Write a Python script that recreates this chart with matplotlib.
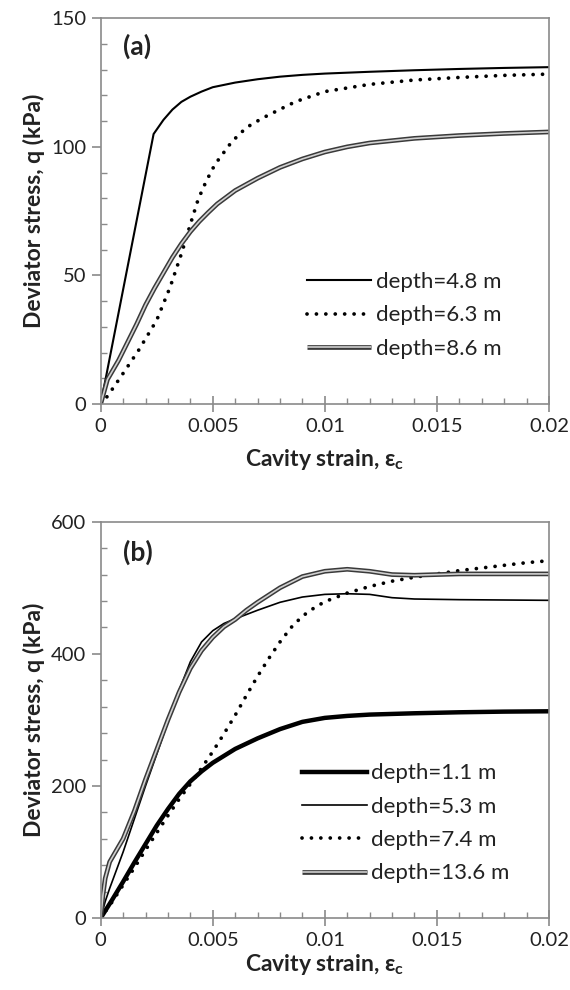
import numpy as np
import matplotlib
matplotlib.use("Agg")
import matplotlib.pyplot as plt
from matplotlib.ticker import MultipleLocator
from matplotlib.legend_handler import HandlerTuple

plt.rcParams['font.family'] = ['Lato', 'DejaVu Sans']
plt.rcParams['mathtext.fontset'] = 'custom'
plt.rcParams['mathtext.rm'] = 'Lato'
plt.rcParams['mathtext.bf'] = 'Lato:bold'

# ---- panel (a) data ----
a_x_48 = [0, 0.00236, 0.0028, 0.0032, 0.0036, 0.004, 0.0045, 0.005, 0.006, 0.007, 0.008,
          0.009, 0.01, 0.012, 0.014, 0.016, 0.018, 0.02]
a_q_48 = [0, 105, 110.5, 114.5, 117.5, 119.5, 121.5, 123.2, 125.0, 126.3, 127.3,
          128.0, 128.5, 129.2, 129.8, 130.3, 130.7, 131.0]

a_x_63 = [0, 0.0003, 0.0009, 0.0017, 0.0025, 0.0031, 0.0036, 0.0041, 0.00435, 0.0047, 0.0051,
          0.00585, 0.0065, 0.0072, 0.008, 0.0087, 0.01, 0.012, 0.014, 0.016, 0.018, 0.02]
a_q_63 = [0, 3, 10.6, 21, 32.6, 45.5, 58.4, 72.7, 79.6, 86.5, 93.2,
          102, 107.5, 111.1, 114.6, 117.6, 121.5, 124.3, 126.0, 127.0, 127.8, 128.3]

a_x_86 = [0, 0.0003, 0.0008, 0.0012, 0.0016, 0.002, 0.0024, 0.0028, 0.0032, 0.0036, 0.004,
          0.0044, 0.0048, 0.0052, 0.006, 0.007, 0.008, 0.009, 0.01, 0.011, 0.012, 0.014,
          0.016, 0.018, 0.02]
a_q_86 = [0, 9.5, 17, 24, 31, 38.5, 45, 51, 57, 62.3, 67,
          71, 74.5, 77.8, 83, 87.8, 92, 95.3, 98, 100, 101.5, 103.3,
          104.4, 105.2, 105.8]

# ---- panel (b) data ----
b_x_11 = [0, 0.0005, 0.001, 0.0015, 0.002, 0.0025, 0.003, 0.0035, 0.004, 0.0045, 0.005,
          0.006, 0.007, 0.008, 0.009, 0.01, 0.011, 0.012, 0.014, 0.016, 0.018, 0.02]
b_q_11 = [0, 27, 55, 84, 112, 140, 165, 188, 207, 222, 235,
          256, 272, 286, 297, 303, 306, 308, 310, 311.5, 312.5, 313]

b_x_53 = [0, 0.0002, 0.0004, 0.001, 0.0015, 0.002, 0.0025, 0.003, 0.0035, 0.004, 0.0045,
          0.005, 0.0055, 0.006, 0.007, 0.008, 0.009, 0.01, 0.011, 0.012, 0.013, 0.014,
          0.016, 0.018, 0.02]
b_q_53 = [0, 25, 45, 100, 150, 200, 248, 297, 345, 388, 418,
          435, 446, 453, 466, 478, 486, 490, 491, 490, 485, 483,
          482, 481.5, 481]

b_x_74 = [0, 0.0005, 0.001, 0.0015, 0.002, 0.0025, 0.003, 0.0035, 0.004, 0.0045, 0.005,
          0.0055, 0.006, 0.0065, 0.007, 0.0075, 0.008, 0.0085, 0.009, 0.0095, 0.01, 0.011,
          0.012, 0.013, 0.014, 0.015, 0.016, 0.017, 0.018, 0.019, 0.02]
b_q_74 = [0, 24, 50, 76, 103, 129, 155, 180, 203, 227, 252,
          279, 307, 337, 366, 393, 418, 440, 457, 469, 479, 492,
          502, 510, 516, 521, 526, 530, 534, 538, 541]

b_x_136 = [0, 0.0001, 0.0002, 0.0004, 0.001, 0.0015, 0.002, 0.0025, 0.003, 0.0035, 0.004,
           0.0045, 0.005, 0.0055, 0.006, 0.0065, 0.007, 0.008, 0.009, 0.01, 0.011, 0.012,
           0.013, 0.014, 0.015, 0.016, 0.018, 0.02]
b_q_136 = [0, 35, 60, 85, 120, 162, 210, 255, 300, 342, 378,
           405, 425, 441, 452, 466, 478, 500, 517, 525, 528, 525,
           520, 519, 520, 521, 521, 521]

spine_col = '#8a8a8a'
txt_col = '#222222'


def double_line(ax, x, y):
    outer, = ax.plot(x, y, color='#3a3a3a', lw=3.4, solid_capstyle='butt')
    inner, = ax.plot(x, y, color='#d0d0d0', lw=1.2, solid_capstyle='butt')
    return (outer, inner)


def dotted_line(ax, x, y):
    ln, = ax.plot(x, y, color='black', lw=2.7, linestyle=(0, (0.01, 2.5)),
                  dash_capstyle='round')
    return ln


def style_axes(ax, ymax, ystep, yminor, xpad):
    ax.set_xlim(0, 0.02)
    ax.set_ylim(0, ymax)
    ax.set_xticks([0, 0.005, 0.01, 0.015, 0.02])
    ax.set_xticklabels(['0', '0.005', '0.01', '0.015', '0.02'])
    ax.xaxis.set_minor_locator(MultipleLocator(0.001))
    ax.yaxis.set_major_locator(MultipleLocator(ystep))
    ax.yaxis.set_minor_locator(MultipleLocator(yminor))
    for s in ax.spines.values():
        s.set_color(spine_col)
        s.set_linewidth(1.2)
    ax.tick_params(axis='x', which='major', direction='inout', length=12, width=1.2,
                   color=spine_col, labelsize=14.5, labelcolor=txt_col, pad=4)
    ax.tick_params(axis='x', which='minor', direction='in', length=4.5, width=1.0,
                   color=spine_col)
    ax.tick_params(axis='y', which='major', direction='out', length=6.5, width=1.2,
                   color=spine_col, labelsize=14.5, labelcolor=txt_col, pad=4)
    ax.tick_params(axis='y', which='minor', direction='in', length=4.5, width=1.0,
                   color=spine_col)
    ax.set_xlabel('Cavity strain, ε$_\\mathbf{c}$', fontsize=16.5, fontweight='bold',
                  color=txt_col, labelpad=xpad)
    ax.set_ylabel('Deviator stress, q (kPa)', fontsize=16.5, fontweight='bold',
                  color=txt_col, labelpad=4)


fig = plt.figure(figsize=(5.7, 9.9), dpi=100)
ax1 = fig.add_axes([0.1767, 0.592, 0.7863, 0.3895])
ax2 = fig.add_axes([0.1767, 0.0727, 0.7863, 0.4003])

leg_kw = dict(handler_map={tuple: HandlerTuple(ndivide=1, pad=0)},
              loc='upper left', frameon=False, borderpad=0, borderaxespad=0,
              fontsize=16, handlelength=2.9, handletextpad=0.2, labelspacing=0.6,
              labelcolor=txt_col)

# panel (a)
h48, = ax1.plot(a_x_48, a_q_48, color='black', lw=1.5)
h63 = dotted_line(ax1, a_x_63, a_q_63)
h86 = double_line(ax1, a_x_86, a_q_86)
style_axes(ax1, 150, 50, 10, xpad=9)
ax1.text(0.05, 0.96, '(a)', transform=ax1.transAxes, fontsize=19, fontweight='bold',
         va='top', ha='left', color=txt_col)
ax1.legend([h48, h63, h86], ['depth=4.8 m', 'depth=6.3 m', 'depth=8.6 m'],
           bbox_to_anchor=(0.46, 0.342), **leg_kw)

# panel (b)
h11, = ax2.plot(b_x_11, b_q_11, color='black', lw=3.2)
h53, = ax2.plot(b_x_53, b_q_53, color='black', lw=1.2)
h74 = dotted_line(ax2, b_x_74, b_q_74)
h136 = double_line(ax2, b_x_136, b_q_136)
style_axes(ax2, 600, 200, 40, xpad=2)
ax2.text(0.05, 0.955, '(b)', transform=ax2.transAxes, fontsize=19, fontweight='bold',
         va='top', ha='left', color=txt_col)
ax2.legend([h11, h53, h74, h136],
           ['depth=1.1 m', 'depth=5.3 m', 'depth=7.4 m', 'depth=13.6 m'],
           bbox_to_anchor=(0.45, 0.39), **leg_kw)

fig.savefig('out.png', dpi=100)
